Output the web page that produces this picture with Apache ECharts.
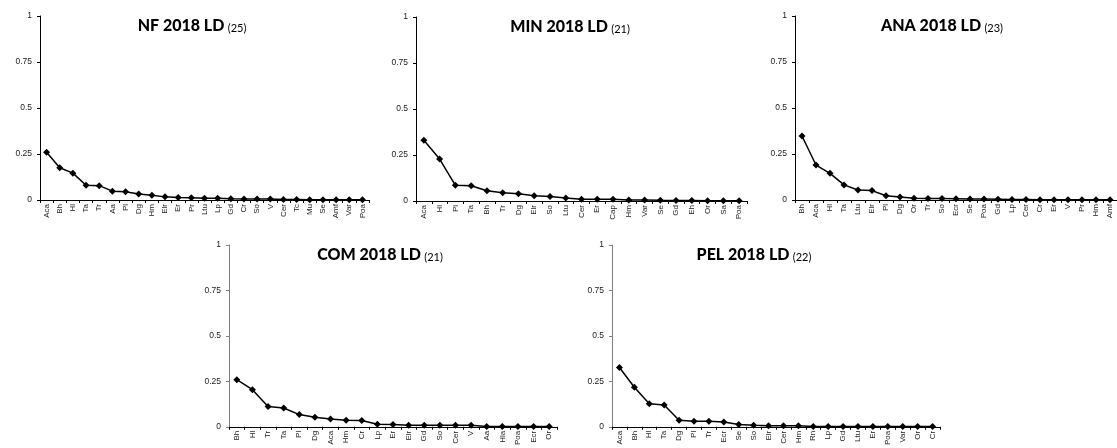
<!DOCTYPE html>
<html>
<head>
<meta charset="utf-8">
<script src="https://cdn.jsdelivr.net/npm/echarts@6/dist/echarts.min.js"></script>
<style>html,body{margin:0;padding:0;background:#fff}#c{width:1117px;height:448px}</style>
</head>
<body>
<div id="c"></div>
<script>
const nfCats = ['Aca','Bh','Hl','Ta','Tr','Aa','Pl','Dg','Hm','Elr','Er','Pr','Ltu','Lp','Gd','Cr','So','V','Cer','Tc','Mu','Se','Amf','Var','Poa'];
const nfVals = [0.26,0.175,0.146,0.08,0.078,0.048,0.045,0.032,0.026,0.017,0.013,0.012,0.009,0.009,0.007,0.006,0.005,0.005,0.003,0.003,0.002,0.002,0.001,0.001,0.001];

const minCats = ['Aca','Hl','Pl','Ta','Bh','Tr','Dg','Elr','So','Ltu','Cer','Er','Cap','Hm','Var','Se','Gd','Eh','Or','Sa','Poa'];
const minVals = [0.33,0.228,0.085,0.083,0.056,0.045,0.040,0.029,0.025,0.016,0.010,0.010,0.009,0.006,0.006,0.004,0.003,0.003,0.002,0.002,0.001];

const anaCats = ['Bh','Aca','Hl','Ta','Ltu','Elr','Pl','Dg','Or','Tr','So','Ecr','Se','Poa','Gd','Lp','Cer','Cr','Er','V','Pr','Hm','Amf'];
const anaVals = [0.348,0.19,0.145,0.082,0.054,0.051,0.023,0.016,0.009,0.008,0.008,0.007,0.005,0.005,0.004,0.003,0.003,0.002,0.002,0.002,0.001,0.001,0.001];

const comCats = ['Bh','Hl','Tr','Ta','Pl','Dg','Aca','Hm','Cr','Lp','Er','Elr','Gd','So','Cer','V','Aa','Hla','Poa','Ecr','Or'];
const comVals = [0.259,0.204,0.112,0.103,0.067,0.052,0.043,0.036,0.035,0.014,0.013,0.009,0.009,0.009,0.008,0.008,0.002,0.001,0.001,0.001,0.001];

const pelCats = ['Aca','Bh','Hl','Ta','Dg','Pl','Tr','Ecr','Se','So','Elr','Cer','Hm','Rn','Lp','Gd','Ltu','Er','Poa','Var','Or','Cr'];
const pelVals = [0.326,0.217,0.127,0.12,0.036,0.031,0.03,0.026,0.013,0.009,0.006,0.005,0.005,0.002,0.001,0.001,0.001,0.001,0.001,0.001,0.001,0.001];

const titles = ['NF 2018 LD','MIN 2018 LD','ANA 2018 LD','COM 2018 LD','PEL 2018 LD'];
const counts = ['(25)','(21)','(23)','(21)','(22)'];

const panels = [
  {cats: nfCats, vals: nfVals, left: 40, top: 16, width: 329, tx: 192, yAxisColor: '#000'},
  {cats: minCats, vals: minVals, left: 416, top: 17, width: 331, tx: 570, yAxisColor: '#000'},
  {cats: anaCats, vals: anaVals, left: 795, top: 16, width: 329, tx: 942, yAxisColor: '#000'},
  {cats: comCats, vals: comVals, left: 229, top: 245, width: 328, tx: 380, yAxisColor: '#808080'},
  {cats: pelCats, vals: pelVals, left: 612, top: 245, width: 328, tx: 754, yAxisColor: '#808080'}
];

const grid = [], xAxis = [], yAxis = [], series = [], graphic = [];
panels.forEach((p, i) => {
  grid.push({left: p.left, top: p.top, width: p.width, height: 184, containLabel: false});
  xAxis.push({
    type: 'category', gridIndex: i, data: p.cats, boundaryGap: true,
    axisLine: {lineStyle: {color: '#000', width: 1}},
    axisTick: {show: true, interval: 0, length: 3, lineStyle: {color: '#000'}},
    axisLabel: {interval: 0, rotate: 90, fontSize: 8, color: '#222', margin: 4, fontFamily: 'Liberation Sans'},
    splitLine: {show: false}
  });
  yAxis.push({
    type: 'value', gridIndex: i, min: 0, max: 1, interval: 0.25,
    axisLine: {show: true, lineStyle: {color: p.yAxisColor, width: 1}},
    axisTick: {show: true, length: 3, lineStyle: {color: p.yAxisColor}},
    axisLabel: {fontSize: 8.5, color: '#222', margin: 8, fontFamily: 'Liberation Sans'},
    splitLine: {show: false}
  });
  series.push({
    type: 'line', xAxisIndex: i, yAxisIndex: i, data: p.vals,
    symbol: 'diamond', symbolSize: 7,
    lineStyle: {color: '#000', width: 1.5},
    itemStyle: {color: '#000'},
    animation: false
  });
  graphic.push({
    type: 'text', x: p.tx, y: p.top + 10,
    style: {
      text: '{a|' + titles[i] + '} {b|' + counts[i] + '}',
      align: 'center', verticalAlign: 'middle',
      rich: {
        a: {fontFamily: 'Lato', fontWeight: 900, fontSize: 16, fill: '#000', color: '#000', verticalAlign: 'bottom'},
        b: {fontFamily: 'Lato', fontSize: 11, fill: '#000', color: '#000', verticalAlign: 'bottom'}
      }
    }
  });
});

const chart = echarts.init(document.getElementById('c'), null, {renderer: 'canvas'});
chart.setOption({animation: false, grid, xAxis, yAxis, series, graphic});
</script>
</body>
</html>
